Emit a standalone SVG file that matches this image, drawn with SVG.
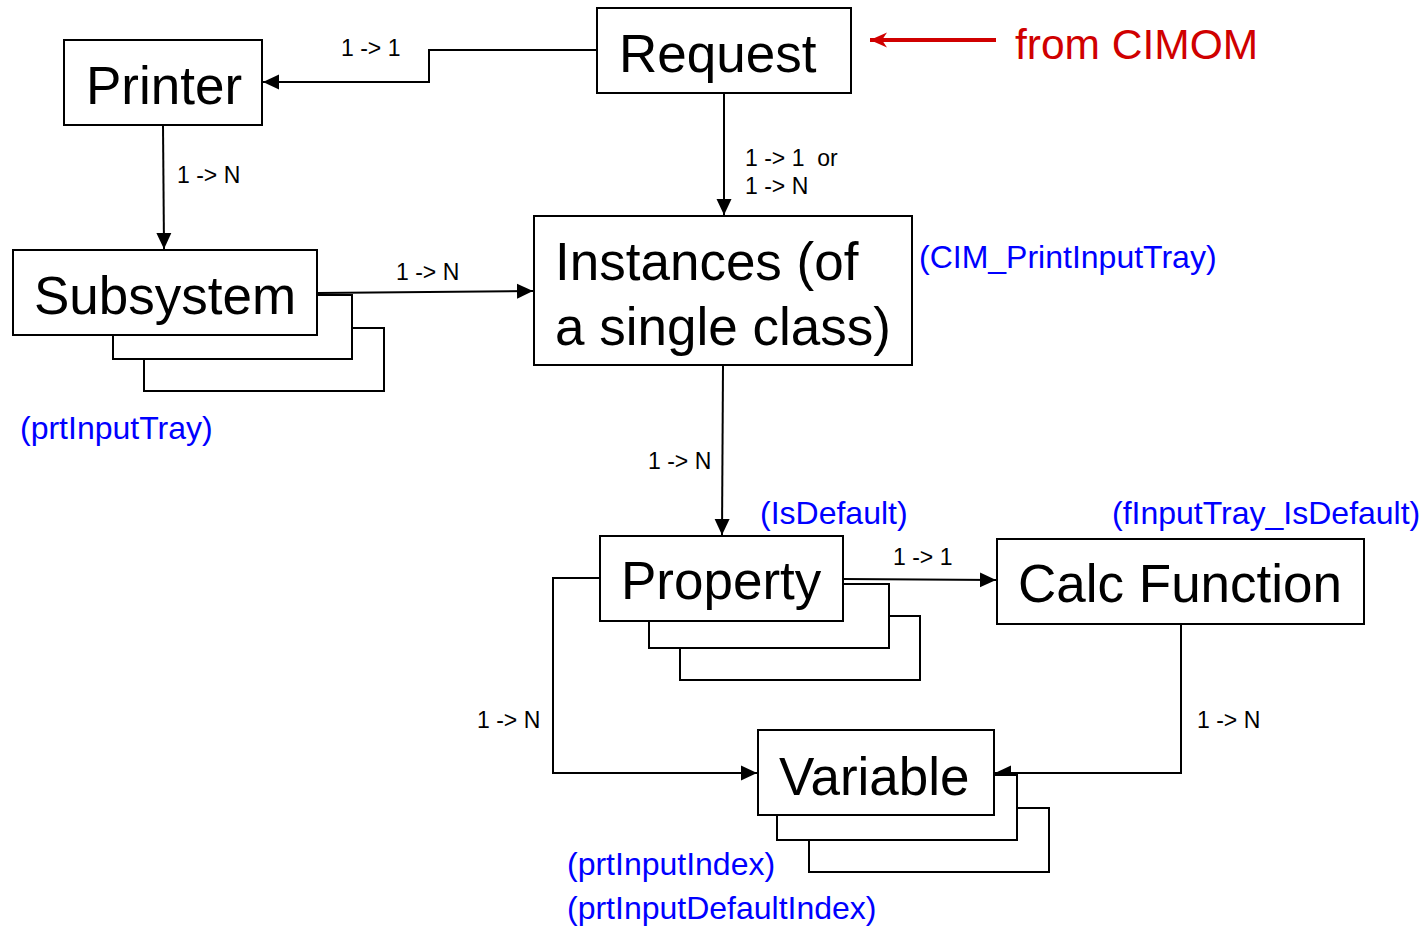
<svg xmlns="http://www.w3.org/2000/svg" width="1423" height="926" viewBox="0 0 1423 926">
<defs>
<style>
.box{fill:#fff;stroke:#000;stroke-width:2}
.node{font-family:"Liberation Sans",Arial,sans-serif;font-size:53px;fill:#000}
.lbl{font-family:"Liberation Sans",Arial,sans-serif;font-size:23px;fill:#000}
.blue{font-family:"Liberation Sans",Arial,sans-serif;font-size:32px;fill:#0000ff}
.red{font-family:"Liberation Sans",Arial,sans-serif;font-size:42.5px;fill:#d00000}
.conn{fill:none;stroke:#000;stroke-width:2}
</style>
<marker id="arr" markerUnits="userSpaceOnUse" markerWidth="18" markerHeight="18" refX="16" refY="8" orient="auto">
<path d="M0,0.5 L16,8 L0,15.5 z" fill="#000"/>
</marker>
<marker id="rarr" markerUnits="userSpaceOnUse" markerWidth="20" markerHeight="18" refX="17" refY="8" orient="auto">
<path d="M0,0.5 L17,8 L0,15.5 L5,8 z" fill="#d00000"/>
</marker>
</defs>
<rect width="1423" height="926" fill="#fff"/>

<g id="connectors">
<path class="conn" d="M597,50 H429 V82 H263" marker-end="url(#arr)"/>
<path class="conn" d="M163,125 L164,249" marker-end="url(#arr)"/>
<path class="conn" d="M318,293 L533,291" marker-end="url(#arr)"/>
<path class="conn" d="M724,93 V215" marker-end="url(#arr)"/>
<path class="conn" d="M723,365 L722,535" marker-end="url(#arr)"/>
<path class="conn" d="M843,579 L996,580" marker-end="url(#arr)"/>
<path class="conn" d="M600,578 H553 V773 H757" marker-end="url(#arr)"/>
<path class="conn" d="M1181,624 V773 H995" marker-end="url(#arr)"/>
<path d="M996,40 H870" fill="none" stroke="#d00000" stroke-width="4" marker-end="url(#rarr)"/>
<text class="lbl" x="341" y="56">1 -&gt; 1</text>
<text class="lbl" x="177" y="183">1 -&gt; N</text>
<text class="lbl" x="396" y="280">1 -&gt; N</text>
<text class="lbl" x="745" y="166" xml:space="preserve">1 -&gt; 1  or</text>
<text class="lbl" x="745" y="194">1 -&gt; N</text>
<text class="lbl" x="648" y="469">1 -&gt; N</text>
<text class="lbl" x="893" y="565">1 -&gt; 1</text>
<text class="lbl" x="477" y="728">1 -&gt; N</text>
<text class="lbl" x="1197" y="728">1 -&gt; N</text>
</g>

<g id="request">
<rect class="box" x="597" y="8" width="254" height="85"/>
<text class="node" x="619" y="72">Request</text>
</g>

<g id="from-cimom">
<text class="red" x="1015" y="59">from CIMOM</text>
</g>

<g id="printer">
<rect class="box" x="64" y="40" width="198" height="85"/>
<text class="node" x="86" y="104">Printer</text>
</g>

<g id="subsystem">
<rect class="box" x="144" y="328" width="240" height="63"/>
<rect class="box" x="113" y="295" width="239" height="64"/>
<rect class="box" x="13" y="250" width="304" height="85"/>
<text class="node" x="34" y="314">Subsystem</text>
<text class="blue" x="20" y="439">(prtInputTray)</text>
</g>

<g id="instances">
<rect class="box" x="534" y="216" width="378" height="149"/>
<text class="node" x="555" y="280">Instances (of</text>
<text class="node" x="555" y="345">a single class)</text>
<text class="blue" x="919" y="268">(CIM_PrintInputTray)</text>
</g>

<g id="property">
<rect class="box" x="680" y="616" width="240" height="64"/>
<rect class="box" x="649" y="584" width="240" height="64"/>
<rect class="box" x="600" y="536" width="243" height="85"/>
<text class="node" x="621" y="599">Property</text>
<text class="blue" x="760" y="524">(IsDefault)</text>
</g>

<g id="calc-function">
<rect class="box" x="997" y="539" width="367" height="85"/>
<text class="node" x="1018" y="602">Calc Function</text>
<text class="blue" x="1112" y="524">(fInputTray_IsDefault)</text>
</g>

<g id="variable">
<rect class="box" x="809" y="808" width="240" height="64"/>
<rect class="box" x="777" y="775" width="240" height="65"/>
<rect class="box" x="758" y="730" width="236" height="85"/>
<text class="node" x="779" y="795">Variable</text>
<text class="blue" x="567" y="875">(prtInputIndex)</text>
<text class="blue" x="567" y="919">(prtInputDefaultIndex)</text>
</g>
</svg>
